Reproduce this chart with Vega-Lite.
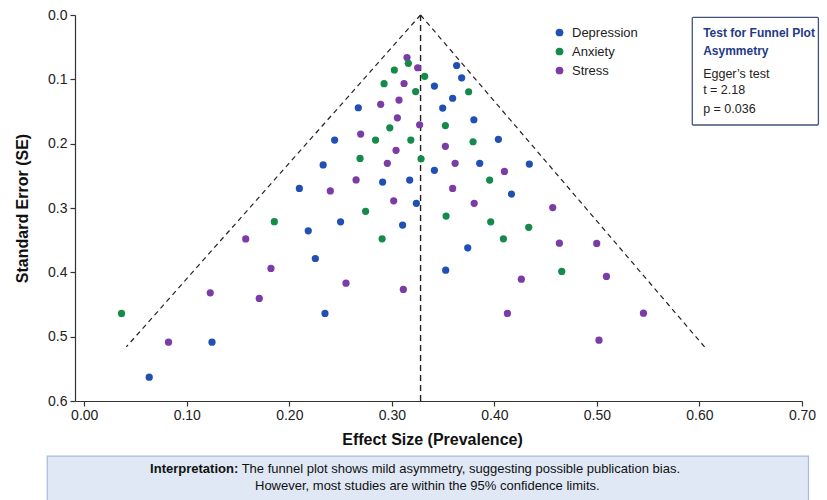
{
  "$schema": "https://vega.github.io/schema/vega-lite/v6.json",
  "width": 727,
  "height": 386,
  "autosize": {"type": "none"},
  "padding": {"left": 75, "top": 15, "right": 25, "bottom": 99},
  "background": "white",
  "config": {
    "view": {"stroke": null},
    "font": "Liberation Sans",
    "axis": {"grid": false, "labelFlush": false, "labelOverlap": false, "domainColor": "#333333", "tickColor": "#333333", "tickSize": 5, "labelColor": "#222222", "titleColor": "#111111", "labelFont": "Liberation Sans", "titleFont": "Liberation Sans", "labelFontSize": 14, "titleFontSize": 16, "titleFontWeight": "bold", "domainWidth": 1.2, "tickWidth": 1.2},
    "legend": {"orient": "none", "legendX": 478, "legendY": 11, "padding": 0, "title": null, "labelFontSize": 13, "labelColor": "#222222", "symbolType": "circle", "symbolSize": 60, "rowPadding": 5, "labelOffset": 6, "labelFont": "Liberation Sans"}
  },
  "datasets": {
    "studies": [
      {"x": 0.3148, "y": 0.0661, "group": "Stress"},
      {"x": 0.3161, "y": 0.0751, "group": "Anxiety"},
      {"x": 0.3252, "y": 0.0820, "group": "Stress"},
      {"x": 0.3024, "y": 0.0855, "group": "Anxiety"},
      {"x": 0.3320, "y": 0.0953, "group": "Anxiety"},
      {"x": 0.3632, "y": 0.0785, "group": "Depression"},
      {"x": 0.3681, "y": 0.0977, "group": "Depression"},
      {"x": 0.2924, "y": 0.1068, "group": "Anxiety"},
      {"x": 0.3119, "y": 0.1065, "group": "Stress"},
      {"x": 0.3415, "y": 0.1104, "group": "Depression"},
      {"x": 0.3232, "y": 0.1190, "group": "Anxiety"},
      {"x": 0.3749, "y": 0.1193, "group": "Anxiety"},
      {"x": 0.3070, "y": 0.1322, "group": "Stress"},
      {"x": 0.2891, "y": 0.1389, "group": "Stress"},
      {"x": 0.2673, "y": 0.1442, "group": "Depression"},
      {"x": 0.3593, "y": 0.1294, "group": "Depression"},
      {"x": 0.3496, "y": 0.1446, "group": "Depression"},
      {"x": 0.3054, "y": 0.1599, "group": "Stress"},
      {"x": 0.2980, "y": 0.1753, "group": "Anxiety"},
      {"x": 0.3271, "y": 0.1706, "group": "Stress"},
      {"x": 0.3522, "y": 0.1719, "group": "Anxiety"},
      {"x": 0.3800, "y": 0.1628, "group": "Depression"},
      {"x": 0.2442, "y": 0.1944, "group": "Depression"},
      {"x": 0.2696, "y": 0.1851, "group": "Stress"},
      {"x": 0.2841, "y": 0.1944, "group": "Anxiety"},
      {"x": 0.3185, "y": 0.1944, "group": "Anxiety"},
      {"x": 0.3792, "y": 0.1970, "group": "Anxiety"},
      {"x": 0.4039, "y": 0.1933, "group": "Depression"},
      {"x": 0.3522, "y": 0.2042, "group": "Stress"},
      {"x": 0.3041, "y": 0.2103, "group": "Stress"},
      {"x": 0.2690, "y": 0.2229, "group": "Anxiety"},
      {"x": 0.3285, "y": 0.2235, "group": "Anxiety"},
      {"x": 0.2330, "y": 0.2330, "group": "Depression"},
      {"x": 0.2956, "y": 0.2306, "group": "Stress"},
      {"x": 0.3617, "y": 0.2306, "group": "Stress"},
      {"x": 0.3857, "y": 0.2306, "group": "Depression"},
      {"x": 0.4341, "y": 0.2317, "group": "Depression"},
      {"x": 0.3415, "y": 0.2415, "group": "Depression"},
      {"x": 0.4098, "y": 0.2431, "group": "Stress"},
      {"x": 0.3954, "y": 0.2566, "group": "Anxiety"},
      {"x": 0.2651, "y": 0.2563, "group": "Stress"},
      {"x": 0.2910, "y": 0.2597, "group": "Depression"},
      {"x": 0.3174, "y": 0.2566, "group": "Depression"},
      {"x": 0.2098, "y": 0.2695, "group": "Depression"},
      {"x": 0.2400, "y": 0.2734, "group": "Stress"},
      {"x": 0.3593, "y": 0.2695, "group": "Stress"},
      {"x": 0.4166, "y": 0.2784, "group": "Depression"},
      {"x": 0.3018, "y": 0.2888, "group": "Stress"},
      {"x": 0.3239, "y": 0.2928, "group": "Depression"},
      {"x": 0.3803, "y": 0.2928, "group": "Stress"},
      {"x": 0.4569, "y": 0.2994, "group": "Stress"},
      {"x": 0.2744, "y": 0.3051, "group": "Anxiety"},
      {"x": 0.3529, "y": 0.3126, "group": "Anxiety"},
      {"x": 0.1854, "y": 0.3212, "group": "Anxiety"},
      {"x": 0.2500, "y": 0.3215, "group": "Depression"},
      {"x": 0.3964, "y": 0.3215, "group": "Anxiety"},
      {"x": 0.4335, "y": 0.3300, "group": "Anxiety"},
      {"x": 0.3105, "y": 0.3266, "group": "Depression"},
      {"x": 0.2185, "y": 0.3355, "group": "Depression"},
      {"x": 0.1575, "y": 0.3481, "group": "Stress"},
      {"x": 0.2905, "y": 0.3479, "group": "Anxiety"},
      {"x": 0.4088, "y": 0.3479, "group": "Anxiety"},
      {"x": 0.4634, "y": 0.3546, "group": "Stress"},
      {"x": 0.4998, "y": 0.3551, "group": "Stress"},
      {"x": 0.3740, "y": 0.3619, "group": "Depression"},
      {"x": 0.2254, "y": 0.3785, "group": "Depression"},
      {"x": 0.1821, "y": 0.3939, "group": "Stress"},
      {"x": 0.3525, "y": 0.3966, "group": "Depression"},
      {"x": 0.4657, "y": 0.3986, "group": "Anxiety"},
      {"x": 0.5093, "y": 0.4064, "group": "Stress"},
      {"x": 0.4263, "y": 0.4106, "group": "Stress"},
      {"x": 0.2553, "y": 0.4168, "group": "Stress"},
      {"x": 0.3112, "y": 0.4266, "group": "Stress"},
      {"x": 0.1229, "y": 0.4319, "group": "Stress"},
      {"x": 0.1707, "y": 0.4406, "group": "Stress"},
      {"x": 0.0364, "y": 0.4639, "group": "Anxiety"},
      {"x": 0.2348, "y": 0.4639, "group": "Depression"},
      {"x": 0.4127, "y": 0.4639, "group": "Stress"},
      {"x": 0.5454, "y": 0.4635, "group": "Stress"},
      {"x": 0.0822, "y": 0.5086, "group": "Stress"},
      {"x": 0.1246, "y": 0.5086, "group": "Depression"},
      {"x": 0.5020, "y": 0.5054, "group": "Stress"},
      {"x": 0.0634, "y": 0.5630, "group": "Depression"}
    ],
    "funnel": [
      {"side": "left", "o": 0, "x": 0.328, "y": 0.0},
      {"side": "left", "o": 1, "x": 0.041, "y": 0.516},
      {"side": "right", "o": 0, "x": 0.328, "y": 0.0},
      {"side": "right", "o": 1, "x": 0.605, "y": 0.516}
    ],
    "center": [{"x": 0.328, "y": 0.0, "y2": 0.6}],
    "testbox": [{"x": 0.593, "x2": 0.716, "y": 0.0036, "y2": 0.171}],
    "testtitle": [
      {"x": 0.6036, "y": 0.0285, "t": "Test for Funnel Plot"},
      {"x": 0.6036, "y": 0.0555, "t": "Asymmetry"}
    ],
    "testbody": [
      {"x": 0.6036, "y": 0.0918, "t": "Egger’s test"},
      {"x": 0.6036, "y": 0.1166, "t": "t = 2.18"},
      {"x": 0.6036, "y": 0.1457, "t": "p = 0.036"}
    ],
    "interpbox": [{"x": -0.0361, "x2": 0.7063, "y": 0.6858, "y2": 0.78}],
    "interpbold": [{"x": 0.1502, "y": 0.706, "t": "Interpretation:"}],
    "interprest": [{"x": 0.1535, "y": 0.706, "t": "The funnel plot shows mild asymmetry, suggesting possible publication bias."}],
    "interpline2": [{"x": 0.3346, "y": 0.7325, "t": "However, most studies are within the 95% confidence limits."}]
  },
  "encoding": {
    "x": {"field": "x", "type": "quantitative", "scale": {"domain": [-0.009, 0.7], "nice": false, "zero": false}, "axis": {"values": [0, 0.1, 0.2, 0.3, 0.4, 0.5, 0.6, 0.7], "format": ".2f", "title": "Effect Size (Prevalence)", "titlePadding": 9, "labelPadding": 2, "titleX": 357}},
    "y": {"field": "y", "type": "quantitative", "scale": {"domain": [0, 0.6], "nice": false, "zero": false, "reverse": true}, "axis": {"values": [0, 0.1, 0.2, 0.3, 0.4, 0.5, 0.6], "format": ".1f", "title": "Standard Error (SE)", "titlePadding": 17, "labelPadding": 3}}
  },
  "layer": [
    {
      "data": {"name": "interpbox"},
      "mark": {"type": "rect", "fill": "#dfe8f4", "stroke": "#a9bad6", "strokeWidth": 1.2},
      "encoding": {"x2": {"field": "x2"}, "y2": {"field": "y2"}}
    },
    {
      "data": {"name": "interpbold"},
      "mark": {"type": "text", "align": "right", "baseline": "middle", "fontSize": 13, "fontWeight": "bold", "color": "#111111"},
      "encoding": {"text": {"field": "t"}}
    },
    {
      "data": {"name": "interprest"},
      "mark": {"type": "text", "align": "left", "baseline": "middle", "fontSize": 13, "color": "#111111"},
      "encoding": {"text": {"field": "t"}}
    },
    {
      "data": {"name": "interpline2"},
      "mark": {"type": "text", "align": "center", "baseline": "middle", "fontSize": 13, "color": "#111111"},
      "encoding": {"text": {"field": "t"}}
    },
    {
      "data": {"name": "testbox"},
      "mark": {"type": "rect", "fill": "white", "stroke": "#44547e", "strokeWidth": 1.3, "cornerRadius": 1},
      "encoding": {"x2": {"field": "x2"}, "y2": {"field": "y2"}}
    },
    {
      "data": {"name": "testtitle"},
      "mark": {"type": "text", "align": "left", "baseline": "middle", "fontSize": 12, "fontWeight": "bold", "color": "#1f3a85"},
      "encoding": {"text": {"field": "t"}}
    },
    {
      "data": {"name": "testbody"},
      "mark": {"type": "text", "align": "left", "baseline": "middle", "fontSize": 12.5, "color": "#222222"},
      "encoding": {"text": {"field": "t"}}
    },
    {
      "data": {"name": "funnel"},
      "mark": {"type": "line", "color": "#222222", "strokeWidth": 1.2, "strokeDash": [5, 4]},
      "encoding": {"detail": {"field": "side"}, "order": {"field": "o", "type": "quantitative"}}
    },
    {
      "data": {"name": "center"},
      "mark": {"type": "rule", "color": "#222222", "strokeWidth": 1.4, "strokeDash": [6, 4]},
      "encoding": {"y2": {"field": "y2"}}
    },
    {
      "data": {"name": "studies"},
      "mark": {"type": "circle", "size": 52, "opacity": 1},
      "encoding": {
        "color": {"field": "group", "type": "nominal", "scale": {"domain": ["Depression", "Anxiety", "Stress"], "range": ["#2150b5", "#168a4b", "#7b3ca8"]}}
      }
    }
  ]
}
